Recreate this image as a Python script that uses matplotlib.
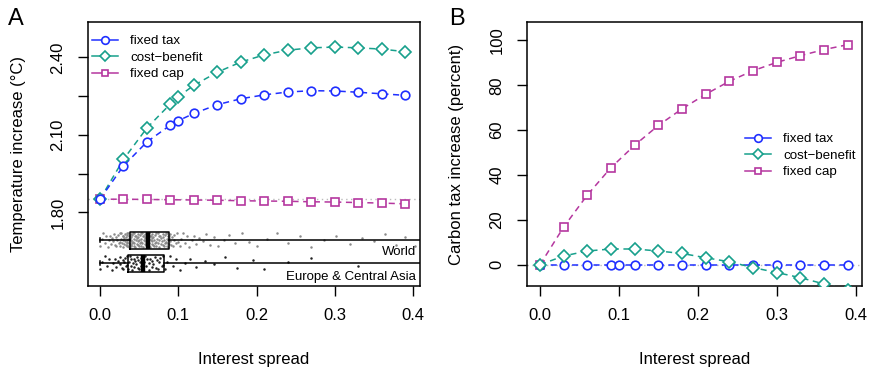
import matplotlib
matplotlib.use("Agg")
import matplotlib.pyplot as plt
from matplotlib.lines import Line2D
import numpy as np

plt.rcParams['font.family'] = ['Liberation Sans', 'DejaVu Sans']

# interest spread grid
spread = [0.0, 0.03, 0.06, 0.09, 0.10, 0.12, 0.15, 0.18, 0.21, 0.24, 0.27, 0.30, 0.33, 0.36, 0.39]
spread_nb = [0.0, 0.03, 0.06, 0.09, 0.12, 0.15, 0.18, 0.21, 0.24, 0.27, 0.30, 0.33, 0.36, 0.39]

# panel A: temperature increase (C)
temp_tax = [1.851, 1.980, 2.073, 2.138, 2.155, 2.183, 2.217, 2.240, 2.255, 2.266, 2.271, 2.270, 2.265, 2.259, 2.253]
temp_cb = [1.851, 2.005, 2.127, 2.220, 2.248, 2.292, 2.343, 2.382, 2.410, 2.428, 2.437, 2.440, 2.437, 2.432, 2.422]
temp_cap = [1.851, 1.851, 1.850, 1.849, 1.848, 1.847, 1.845, 1.844, 1.843, 1.841, 1.840, 1.838, 1.836, 1.833]

# panel B: carbon tax increase (percent)
tax_tax = [0, 0, 0, 0, 0, 0, 0, 0, 0, 0, 0, 0, 0, 0, 0]
tax_cb = [0, 3.9, 6.1, 7.0, 7.0, 6.1, 5.0, 3.1, 1.3, -1.3, -3.5, -5.8, -8.6, -11.3]
tax_cap = [0, 16.8, 31.1, 43.3, 53.3, 62.1, 69.5, 76.0, 81.8, 86.5, 90.2, 93.2, 95.9, 98.1]

world_pct = [
    0.0, 0.2, 0.4, 0.6, 0.8, 1.0, 1.1, 1.3, 1.4, 1.5, 1.7, 1.8, 1.9, 2.0, 2.1, 2.2, 2.3, 2.4, 2.5, 2.5,
    2.6, 2.7, 2.7, 2.8, 2.9, 2.9, 3.0, 3.0, 3.1, 3.1, 3.2, 3.2, 3.3, 3.3, 3.4, 3.4, 3.4, 3.5, 3.5, 3.5,
    3.6, 3.6, 3.6, 3.7, 3.7, 3.7, 3.7, 3.8, 3.8, 3.8,
    3.9, 3.9, 3.9, 4.0, 4.0, 4.0, 4.1, 4.1, 4.2, 4.2, 4.3, 4.3, 4.4, 4.4, 4.5, 4.5, 4.6, 4.6, 4.7, 4.7,
    4.8, 4.8, 4.9, 4.9, 5.0, 5.0, 5.1, 5.1, 5.2, 5.2, 5.3, 5.3, 5.4, 5.4, 5.5, 5.5, 5.6, 5.6, 5.7, 5.7,
    5.8, 5.8, 5.9, 5.9, 6.0, 6.0, 6.0, 6.1, 6.1, 6.1,
    6.2, 6.2, 6.3, 6.3, 6.4, 6.4, 6.5, 6.5, 6.6, 6.6, 6.7, 6.7, 6.8, 6.8, 6.9, 6.9, 7.0, 7.0, 7.1, 7.2,
    7.2, 7.3, 7.4, 7.4, 7.5, 7.6, 7.6, 7.7, 7.8, 7.8, 7.9, 8.0, 8.0, 8.1, 8.2, 8.2, 8.3, 8.3, 8.4, 8.4,
    8.5, 8.5, 8.6, 8.6, 8.7, 8.7, 8.7, 8.8, 8.8, 8.8,
    8.9, 9.0, 9.1, 9.2, 9.3, 9.4, 9.5, 9.7, 9.8, 10.0, 10.2, 10.4, 10.6, 10.9, 11.1, 11.4, 11.7, 12.0,
    12.3, 12.7, 13.1, 13.5, 14.0, 14.5, 15.1, 15.8, 16.5, 17.3, 18.2, 19.0, 20.1, 21.3, 22.6, 24.0,
    25.5, 27.0, 28.6, 30.2, 31.9, 33.5, 35.0, 36.4, 37.8, 39.0, 40.2, 42.0, 45.0, 50.0, 58.0, 70.0]
europe_pct = [
    0.0, 0.3, 0.6, 0.9, 1.2, 1.5, 1.7, 1.9, 2.1, 2.3, 2.5, 2.6, 2.8, 2.9, 3.0, 3.1, 3.2, 3.3, 3.4, 3.5,
    3.6, 3.7, 3.8, 3.9, 4.0, 4.1, 4.2, 4.3, 4.4, 4.5, 4.6, 4.7, 4.8, 4.9, 5.0, 5.1, 5.2, 5.3, 5.4, 5.4,
    5.5, 5.6, 5.8, 5.9, 6.0, 6.2, 6.3, 6.4, 6.6, 6.7, 6.8, 7.0, 7.1, 7.3, 7.4, 7.6, 7.7, 7.9, 8.0, 8.1,
    8.3, 8.6, 8.9, 9.3, 9.7, 10.2, 10.8, 11.5, 12.3, 13.4, 14.6, 16.0, 17.5, 19.5, 21.0, 24.0, 27.0,
    33.0, 45.0, 60.0]

groups = ["World", "Europe & Central Asia"]

c_tax = '#1f2fff'
c_cb = '#17a08c'
c_cap = '#b5379f'

fig = plt.figure(figsize=(8.7, 3.73), dpi=100)
axA = fig.add_axes([88/870, 1-286/373, 332/870, 264/373])
axB = fig.add_axes([527/870, 1-286/373, 335/870, 264/373])

dash = (0, (4.0, 3.0))
mk = dict(mfc='white', mew=1.2)


def draw_series(ax, x, y, color, marker, ms):
    ax.plot(x, y, color=color, lw=1.1, linestyle=dash, zorder=3)
    ax.plot(x, y, color=color, lw=0, marker=marker, ms=ms, zorder=4, **mk)


# ---- panel A
axA.axhline(temp_tax[0], color='#bbbbbb', lw=1, linestyle=(0, (1, 2.5)), zorder=1)
draw_series(axA, spread_nb, temp_cap, c_cap, 's', 5.3)
draw_series(axA, spread, temp_cb, c_cb, 'D', 6.3)
draw_series(axA, spread, temp_tax, c_tax, 'o', 6.2)

# strip charts + boxplots of observed spreads
pos = [1.692, 1.603]
half = 0.030
jit = np.array([-0.7, 0.2, 0.9, -0.3, 0.5, -0.9, 0.0, 0.6, -0.5, 0.3, -0.1, 0.8, -0.6, 0.4, -0.8, 0.1, 0.7, -0.4, 0.95, -0.2])
for vals, p, col in [(world_pct, pos[0], '#8a8a8a'), (europe_pct, pos[1], '#222222')]:
    v = np.array(vals) / 100.0
    off = np.resize(jit, len(v)) * half
    axA.scatter(v, p + off, s=3.2, color=col, linewidths=0, zorder=2)

bp = axA.boxplot([np.array(world_pct)/100, np.array(europe_pct)/100], positions=pos,
                 orientation='horizontal', widths=0.066, whis=(0, 100), showfliers=False,
                 patch_artist=False, manage_ticks=False,
                 boxprops=dict(color='black', lw=1.1),
                 whiskerprops=dict(color='black', lw=1.1),
                 capprops=dict(color='black', lw=1.1),
                 medianprops=dict(color='black', lw=3.2))
for cap in bp['caps']:
    m = np.mean(cap.get_ydata())
    cap.set_ydata([m - 0.008, m + 0.008])
    cap.set_zorder(3)

axA.text(0.404, 1.6475, groups[0], ha='right', va='center', fontsize=9.5)
axA.text(0.403, 1.548, groups[1], ha='right', va='center', fontsize=9.5)

axA.set_xlim(-0.0153, 0.4087)
axA.set_ylim(1.515, 2.537)
axA.set_yticks([1.80, 1.95, 2.10, 2.25, 2.40])
axA.set_yticklabels(['1.80', '', '2.10', '', '2.40'])
axA.set_ylabel('Temperature increase (°C)', fontsize=12, va='center')
axA.yaxis.set_label_coords(-0.21, 0.5)

hA = [Line2D([], [], color=c_tax, lw=1.1, marker='o', ms=5.5, **mk),
      Line2D([], [], color=c_cb, lw=1.1, marker='D', ms=5.5, **mk),
      Line2D([], [], color=c_cap, lw=1.1, marker='s', ms=4.8, **mk)]
labels = ['fixed tax', 'cost\u2212benefit', 'fixed cap']
leg_kw = dict(loc='upper left', bbox_transform=fig.transFigure, frameon=False, fontsize=9.6,
              borderpad=0, borderaxespad=0, handlelength=1.95, handletextpad=0.9,
              labelspacing=0.31)
axA.legend(hA, labels, bbox_to_anchor=(92/870, 1-35/373), **leg_kw)

# ---- panel B
axB.axhline(0, color='#bbbbbb', lw=1, linestyle=(0, (1, 2.5)), zorder=1)
draw_series(axB, spread_nb, tax_cap, c_cap, 's', 5.3)
draw_series(axB, spread, tax_tax, c_tax, 'o', 6.2)
draw_series(axB, spread_nb, tax_cb, c_cb, 'D', 6.3)

axB.set_xlim(-0.0165, 0.408)
axB.set_ylim(-9.5, 108.2)
axB.set_yticks([0, 20, 40, 60, 80, 100])
axB.set_ylabel('Carbon tax increase (percent)', fontsize=12, va='center')
axB.yaxis.set_label_coords(-0.21, 0.5)
axB.legend(hA, labels, bbox_to_anchor=(745/870, 1-133/373), **leg_kw)

for ax in (axA, axB):
    ax.set_xticks([0.0, 0.1, 0.2, 0.3, 0.4])
    ax.set_xticklabels(['0.0', '0.1', '0.2', '0.3', '0.4'])
    ax.tick_params(length=7.2, width=1, labelsize=12, pad=9)
    ax.tick_params(axis='y', labelrotation=90)
    for l in ax.get_yticklabels():
        l.set_va('center')
    ax.set_xlabel('Interest spread', fontsize=12, va='center')
    ax.xaxis.set_label_coords(0.5, -0.28)
    for s in ax.spines.values():
        s.set_linewidth(1.1)

fig.text(8/870, 1-25/373, 'A', fontsize=17, ha='left', va='baseline')
fig.text(449/870, 1-25/373, 'B', fontsize=17, ha='left', va='baseline')

fig.savefig('out.png', dpi=100)
